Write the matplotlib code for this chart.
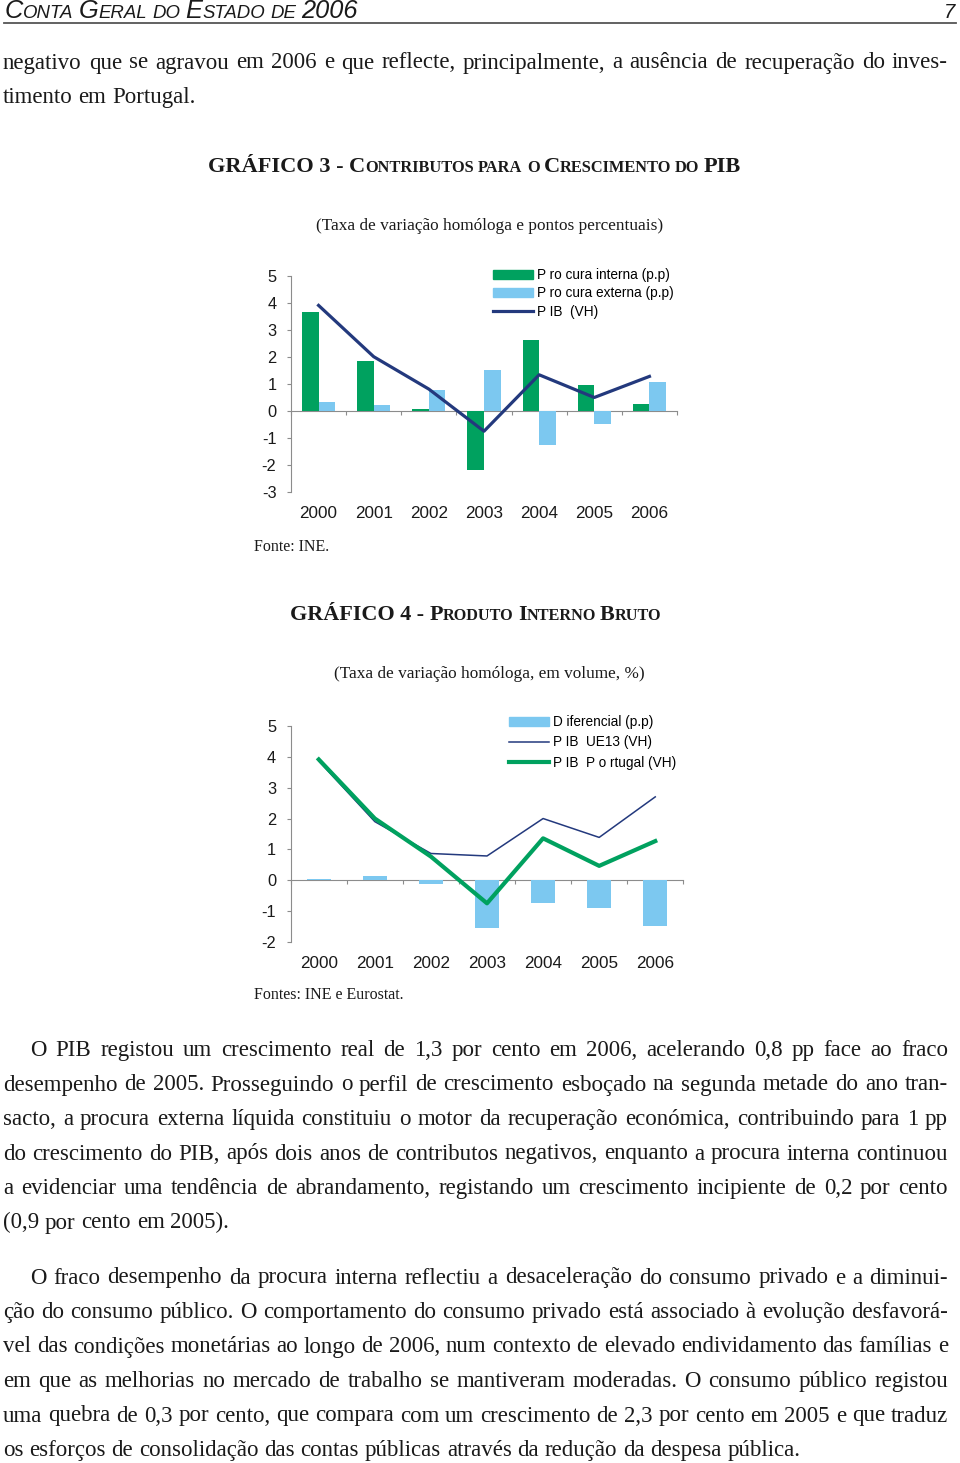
import numpy as np
import matplotlib
matplotlib.use("Agg")
import matplotlib.pyplot as plt
from matplotlib.patches import Patch
from matplotlib.lines import Line2D

plt.rcParams['font.family'] = ['Liberation Sans', 'DejaVu Sans']

W, H = 960, 1463

years = ['2000', '2001', '2002', '2003', '2004', '2005', '2006']

# grafico 3 - contributos (p.p) e PIB (VH)
procura_interna = [3.65, 1.85, 0.06, -2.18, 2.62, 0.95, 0.26]
procura_externa = [0.31, 0.21, 0.76, 1.50, -1.28, -0.48, 1.05]
pib_vh = [3.90, 2.00, 0.80, -0.76, 1.33, 0.49, 1.27]

# grafico 4 - PIB
diferencial = [0.05, 0.15, -0.11, -1.55, -0.72, -0.90, -1.48]
pib_ue13 = [3.86, 1.90, 0.87, 0.79, 2.00, 1.39, 2.70]
pib_pt = [3.91, 2.00, 0.77, -0.74, 1.36, 0.47, 1.27]

labels3 = ['P ro cura interna (p.p)', 'P ro cura externa (p.p)', 'P IB  (VH)']
labels4 = ['D iferencial (p.p)', 'P IB  UE13 (VH)', 'P IB  P o rtugal (VH)']

para0 = ["negativo que se agravou em 2006 e que reflecte, principalmente, a ausência de recuperação do inves-",
         "timento em Portugal."]
para1 = ["O PIB registou um crescimento real de 1,3 por cento em 2006, acelerando 0,8 pp face ao fraco",
         "desempenho de 2005. Prosseguindo o perfil de crescimento esboçado na segunda metade do ano tran-",
         "sacto, a procura externa líquida constituiu o motor da recuperação económica, contribuindo para 1 pp",
         "do crescimento do PIB, após dois anos de contributos negativos, enquanto a procura interna continuou",
         "a evidenciar uma tendência de abrandamento, registando um crescimento incipiente de 0,2 por cento",
         "(0,9 por cento em 2005)."]
para2 = ["O fraco desempenho da procura interna reflectiu a desaceleração do consumo privado e a diminui-",
         "ção do consumo público. O comportamento do consumo privado está associado à evolução desfavorá-",
         "vel das condições monetárias ao longo de 2006, num contexto de elevado endividamento das famílias e",
         "em que as melhorias no mercado de trabalho se mantiveram moderadas. O consumo público registou",
         "uma quebra de 0,3 por cento, que compara com um crescimento de 2,3 por cento em 2005 e que traduz",
         "os esforços de consolidação das contas públicas através da redução da despesa pública."]

green = '#00A15F'
blue = '#7CC8F0'
navy = '#23397D'
gray = '#8C8C8C'
ink = '#1A1A1A'
serif = 'Liberation Serif'

fig = plt.figure(figsize=(W / 100, H / 100), dpi=100)
fig.patch.set_facecolor('white')
renderer = fig.canvas.get_renderer()


def fx(x):
    return x / W


def fy(y):
    return 1 - y / H


def width_of(s, **kw):
    t = fig.text(0, 0, s, **kw)
    w = t.get_window_extent(renderer).width
    t.remove()
    return w


def space_of(**kw):
    return width_of('a a', **kw) - width_of('aa', **kw)


def justify(line, x0, x1, y, last=False, **kw):
    words = line.split()
    ws = [width_of(w, **kw) for w in words]
    if last or len(words) < 2:
        gap = space_of(**kw)
    else:
        gap = (x1 - x0 - sum(ws)) / (len(words) - 1)
    x = x0
    for w, wd in zip(words, ws):
        fig.text(fx(x), fy(y), w, ha='left', va='baseline', color=ink, **kw)
        x += wd + gap


def paragraph(lines, y0, indent=30, size=16.5):
    for i, line in enumerate(lines):
        x0 = indent if i == 0 else 3
        justify(line, x0, 948, y0 + i * 34.5, last=(i == len(lines) - 1),
                family=serif, fontsize=size)


def small_caps(pieces, x0, x1, y, **kw):
    # pieces: (text, big?) ; fitted to the width x0..x1
    big, small = 15.0, 11.0

    def widths(scale):
        out = []
        for s, b in pieces:
            fs = (big if b else small) * scale
            out.append(space_of(fontsize=fs, **kw) if s == ' ' else width_of(s, fontsize=fs, **kw))
        return out

    scale = (x1 - x0) / sum(widths(1.0))
    ws = widths(scale)
    x = x0
    for (s, b), w in zip(pieces, ws):
        if s != ' ':
            fig.text(fx(x), fy(y), s, fontsize=(big if b else small) * scale,
                     ha='left', va='baseline', color=ink, **kw)
        x += w


# page header
small_caps([('C', 1), ('ONTA', 0), (' ', 0), ('G', 1), ('ERAL', 0), (' ', 0), ('DO', 0), (' ', 0),
            ('E', 1), ('STADO', 0), (' ', 0), ('DE', 0), (' ', 0), ('2006', 1)],
           5, 358, 17.5, style='italic', family='Liberation Sans')
fig.text(fx(955), fy(17.5), '7', fontsize=14.6, style='italic', ha='right', va='baseline', color=ink)
fig.add_artist(Line2D([fx(4), fx(956)], [fy(23.3), fy(23.3)], color='#555555', lw=1.3,
                      transform=fig.transFigure))

paragraph(para0, 68.5, indent=3)

# grafico 3 titles
small_caps([('GRÁFICO 3 -', 1), (' ', 1), ('C', 1), ('ONTRIBUTOS', 0), (' ', 0), ('PARA', 0), (' ', 0),
            ('O', 0), (' ', 0), ('C', 1), ('RESCIMENTO', 0), (' ', 0), ('DO', 0), (' ', 0), ('PIB', 1)],
           208, 743, 172.5, family=serif, weight='bold')
fig.text(fx(489.5), fy(229.5), '(Taxa de variação homóloga e pontos percentuais)', family=serif,
         fontsize=12.4, ha='center', va='baseline', color=ink)


def style_axes(ax, ymin, ymax):
    x = np.arange(len(years))
    ax.set_xlim(-0.5, len(years) - 0.5)
    ax.set_ylim(ymin, ymax)
    ticks = list(range(ymin, ymax + 1))
    ax.set_yticks(ticks, [str(t) for t in ticks])
    ax.set_xticks(x, years)
    for s in ['top', 'right', 'bottom']:
        ax.spines[s].set_visible(False)
    ax.spines['left'].set_color(gray)
    ax.spines['left'].set_linewidth(0.8)
    ax.tick_params(axis='y', direction='out', length=3, width=0.8, color=gray, pad=7.5,
                   labelsize=11.8, labelcolor=ink)
    ax.tick_params(axis='x', length=0, pad=10, labelsize=12.3, labelcolor=ink)
    # zero line with category separators
    sec = ax.secondary_xaxis(0, transform=ax.transData)
    sec.set_xticks([i - 0.5 for i in range(len(years) + 1)])
    sec.tick_params(direction='out', length=3, width=0.8, color=gray, labelbottom=False)
    sec.spines['bottom'].set_color(gray)
    sec.spines['bottom'].set_linewidth(0.8)
    ax.patch.set_alpha(0)
    return x


leg_kw = dict(loc='upper left', frameon=False, fontsize=9.8, handlelength=2.94, handleheight=0.66,
              handletextpad=0.3, borderpad=0, borderaxespad=0)

# grafico 3 chart
ax1 = fig.add_axes([fx(291), fy(491.7), 386 / W, 216 / H])
x = style_axes(ax1, -3, 5)
ax1.bar(x - 0.15, procura_interna, width=0.3, color=green, zorder=2)
ax1.bar(x + 0.15, procura_externa, width=0.3, color=blue, zorder=2)
ax1.plot(x, pib_vh, color=navy, lw=2.3, zorder=3)
h3 = [Patch(color=green), Patch(color=blue), Line2D([], [], color=navy, lw=2.3)]
ax1.legend(h3, labels3, bbox_to_anchor=(0.523, 1.036), labelspacing=0.33, **leg_kw)

fig.text(fx(254), fy(551), 'Fonte: INE.', family=serif, fontsize=11.5, ha='left', va='baseline', color=ink)

# grafico 4 titles
small_caps([('GRÁFICO 4 -', 1), (' ', 1), ('P', 1), ('RODUTO', 0), (' ', 0), ('I', 1), ('NTERNO', 0),
            (' ', 0), ('B', 1), ('RUTO', 0)],
           290, 661, 620.5, family=serif, weight='bold')
fig.text(fx(489), fy(678), '(Taxa de variação homóloga, em volume, %)', family=serif,
         fontsize=12.4, ha='center', va='baseline', color=ink)

# grafico 4 chart
ax2 = fig.add_axes([fx(290.7), fy(942.3), 392.6 / W, 216.6 / H])
x = style_axes(ax2, -2, 5)
ax2.bar(x, diferencial, width=0.42, color=blue, zorder=2)
ax2.plot(x, pib_ue13, color=navy, lw=1.1, zorder=3)
ax2.plot(x, pib_pt, color=green, lw=3.0, zorder=4)
h4 = [Patch(color=blue), Line2D([], [], color=navy, lw=1.1), Line2D([], [], color=green, lw=3.0)]
ax2.legend(h4, labels4, bbox_to_anchor=(0.556, 1.05), labelspacing=0.47, **leg_kw)

fig.text(fx(254), fy(999), 'Fontes: INE e Eurostat.', family=serif, fontsize=11.5, ha='left',
         va='baseline', color=ink)

paragraph(para1, 1056)
paragraph(para2, 1283.5)

fig.savefig('out.png', dpi=100, facecolor='white')
